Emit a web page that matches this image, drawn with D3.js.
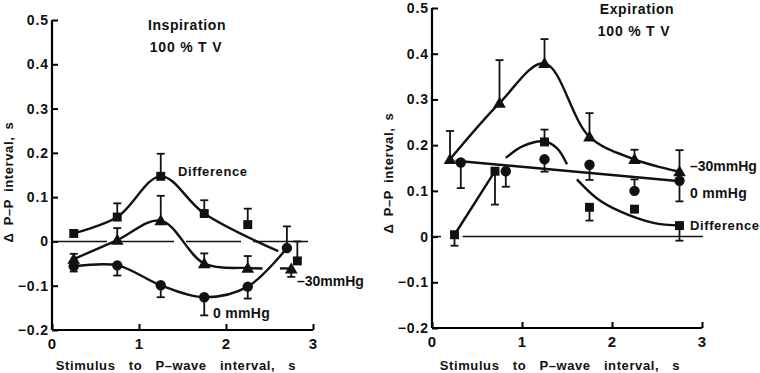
<!DOCTYPE html>
<html>
<head>
<meta charset="utf-8">
<script src="https://cdn.jsdelivr.net/npm/d3@7"></script>
<style>
  body { margin: 0; background: #fff; }
  svg text { font-family: "Liberation Sans", Arial, sans-serif; font-weight: bold; fill: #111; }
</style>
</head>
<body>
<div id="chart"></div>
<script>
// ---- data (x = stimulus to P-wave interval, s; y = delta P-P interval, s)
const yTicks = [-0.2, -0.1, 0, 0.1, 0.2, 0.3, 0.4, 0.5];
const xTicks = [0, 1, 2, 3];

// Inspiration panel
const inspDiffX = [0.25, 0.75, 1.25, 1.75, 2.25, 2.82];
const inspDiffY = [0.018, 0.055, 0.147, 0.063, 0.038, -0.044];
const inspDiffErr = [0.026, 0.086, 0.198, 0.093, 0.074, 0.0];
const inspDiffCurve = [[0.25, 0.018], [0.75, 0.055], [1.25, 0.147], [1.75, 0.063], [2.6, -0.022]];

const insp30X = [0.25, 0.75, 1.25, 1.75, 2.25, 2.75];
const insp30Y = [-0.04, 0.003, 0.047, -0.05, -0.06, -0.062];
const insp30Err = [-0.028, 0.03, 0.103, -0.027, -0.033, -0.08];
const insp30Curve = [[0.25, -0.04], [0.75, 0.003], [1.25, 0.047], [1.75, -0.05], [2.25, -0.06], [2.42, -0.061]];
const insp30Tail = [[2.62, -0.061], [2.74, -0.061]];

const insp0X = [0.25, 0.75, 1.25, 1.75, 2.25, 2.7];
const insp0Y = [-0.056, -0.054, -0.099, -0.126, -0.102, -0.015];
const insp0Err = [-0.068, -0.077, -0.126, -0.167, -0.129, 0.034];

// Expiration panel
const exp30X = [0.2, 0.75, 1.25, 1.75, 2.25, 2.75];
const exp30Y = [0.169, 0.292, 0.379, 0.218, 0.169, 0.142];
const exp30Err = [0.231, 0.386, 0.432, 0.27, 0.19, 0.189];

const exp0X = [0.32, 0.82, 1.25, 1.75, 2.25, 2.75];
const exp0Y = [0.162, 0.143, 0.169, 0.157, 0.1, 0.122];
const exp0Err = [0.106, 0.109, 0.142, 0.124, 0.125, 0.077];
const exp0Fit = [[0.26, 0.166], [2.76, 0.121]];

const expDiffX = [0.25, 0.7, 1.25, 1.75, 2.25, 2.75];
const expDiffY = [0.004, 0.143, 0.207, 0.064, 0.06, 0.024];
const expDiffErr = [-0.02, 0.07, 0.234, 0.035, null, -0.009];
const expDiffRise = [[0.25, 0.004], [0.7, 0.143]];
const expDiffArc = [[0.82, 0.172], [1.01, 0.198], [1.25, 0.208], [1.39, 0.193], [1.5, 0.158]];
const expDiffFall = [[1.61, 0.125], [1.83, 0.084], [2.09, 0.055], [2.46, 0.03], [2.76, 0.024]];

const width = 760, height = 373;
const svg = d3.select('#chart').append('svg')
    .attr('width', width).attr('height', height);

function makePanel(xRange, yRange) {
    const x = d3.scaleLinear([0, 3], xRange);
    const y = d3.scaleLinear([-0.2, 0.5], yRange);
    const g = svg.append('g');

    // axes, ticks pointing inward
    g.append('g')
        .attr('transform', `translate(0,${y(-0.2)})`)
        .call(d3.axisTop(x).tickValues(xTicks).tickSize(6).tickFormat(''))
        .call(a => a.select('.domain').attr('stroke-width', 2.2).attr('d', `M${xRange[0]},0H${xRange[1]}`))
        .call(a => a.selectAll('line').attr('stroke-width', 2));
    g.append('g')
        .attr('transform', `translate(${x(0)},0)`)
        .call(d3.axisRight(y).tickValues(yTicks).tickSize(6).tickFormat(''))
        .call(a => a.select('.domain').attr('stroke-width', 2.2).attr('d', `M0,${yRange[0]}V${yRange[1]}`))
        .call(a => a.selectAll('line').attr('stroke-width', 2));

    g.selectAll('text.yt').data(yTicks).join('text')
        .attr('x', x(0) - 3).attr('y', d => Math.max(y(d) + 5, 13))
        .attr('text-anchor', 'end').style('font-size', '14px')
        .style('letter-spacing', '0.9px')
        .text(d => d === 0 ? '0' : d3.format('.1f')(d).replace('-', '\u2013'));
    g.selectAll('text.xt').data(xTicks).join('text')
        .attr('x', d => x(d)).attr('y', y(-0.2) + 19)
        .attr('text-anchor', 'middle').style('font-size', '15px')
        .text(d => d);
    return { g, x, y };
}

function line(p, pts, curve) {
    p.g.append('path')
        .datum(pts)
        .attr('fill', 'none').attr('stroke', '#111').attr('stroke-width', 2.4)
        .attr('d', d3.line().x(d => p.x(d[0])).y(d => p.y(d[1])).curve(curve || d3.curveLinear));
}

function errBars(p, xs, err, ys) {
    xs.forEach((xv, i) => {
        if (err[i] === null) return;
        const cx = p.x(xv);
        p.g.append('line').attr('x1', cx).attr('x2', cx)
            .attr('y1', p.y(ys[i])).attr('y2', p.y(err[i]))
            .attr('stroke', '#111').attr('stroke-width', 1.8);
        p.g.append('line').attr('x1', cx - 4).attr('x2', cx + 4)
            .attr('y1', p.y(err[i])).attr('y2', p.y(err[i]))
            .attr('stroke', '#111').attr('stroke-width', 1.8);
    });
}

function markers(p, xs, ys, shape) {
    const sym = { circle: d3.symbolCircle, square: d3.symbolSquare, triangle: d3.symbolTriangle }[shape];
    const size = { circle: 85, square: 80, triangle: 70 }[shape];
    p.g.selectAll(null).data(xs).join('path')
        .attr('transform', (d, i) => `translate(${p.x(d)},${p.y(ys[i]) + (shape === 'triangle' ? 1 : 0)})`)
        .attr('d', d3.symbol(sym, size)())
        .attr('fill', '#111');
}

function label(p, txt, x, y, size, anchor, spacing) {
    p.g.append('text').attr('x', x).attr('y', y)
        .attr('text-anchor', anchor || 'start')
        .style('font-size', (size || 13) + 'px')
        .style('letter-spacing', (spacing || 0) + 'px')
        .text(txt);
}

// ---- left panel: inspiration
const L = makePanel([52, 313], [330, 20]);
L.g.append('line')
    .attr('x1', L.x(0)).attr('x2', L.x(3.01))
    .attr('y1', L.y(0)).attr('y2', L.y(0))
    .attr('stroke', '#111').attr('stroke-width', 1.6)
    .attr('stroke-dasharray', '55,12');

line(L, inspDiffCurve, d3.curveCatmullRom);
line(L, insp30Curve, d3.curveCatmullRom);
line(L, insp30Tail);
line(L, insp0X.map((d, i) => [d, insp0Y[i]]), d3.curveCatmullRom);

errBars(L, inspDiffX, inspDiffErr, inspDiffY);
errBars(L, insp30X, insp30Err, insp30Y);
errBars(L, insp0X, insp0Err, insp0Y);
markers(L, inspDiffX, inspDiffY, 'square');
markers(L, insp30X, insp30Y, 'triangle');
markers(L, insp0X, insp0Y, 'circle');

label(L, 'Inspiration', 187, 30, 14, 'middle', 0.6);
label(L, '100 % T V', 186, 52, 14, 'middle', 0.8);
label(L, 'Difference', 178, 176, 13, 'start', 0.6);
label(L, '\u201330mmHg', 297, 286, 14);
label(L, '0 mmHg', 213, 318, 14, 'start', 0.3);
L.g.append('text')
    .attr('transform', `translate(13,182) rotate(-90)`)
    .attr('text-anchor', 'middle').style('font-size', '13px')
    .style('word-spacing', '3px').style('letter-spacing', '0.6px')
    .text('\u0394 P\u2013P interval, s');
L.g.append('text')
    .attr('x', 176).attr('y', 370)
    .attr('text-anchor', 'middle').style('font-size', '13px')
    .style('word-spacing', '9px').style('letter-spacing', '0.6px')
    .text('Stimulus to P\u2013wave interval, s');

// ---- right panel: expiration
const R = makePanel([432, 702], [328, 8]);
R.g.append('line')
    .attr('x1', R.x(0)).attr('x2', R.x(0.1))
    .attr('y1', R.y(0)).attr('y2', R.y(0))
    .attr('stroke', '#111').attr('stroke-width', 1.6);
R.g.append('line')
    .attr('x1', R.x(0.34)).attr('x2', R.x(3.01))
    .attr('y1', R.y(0)).attr('y2', R.y(0))
    .attr('stroke', '#111').attr('stroke-width', 1.6);

line(R, exp30X.map((d, i) => [d, exp30Y[i]]), d3.curveCatmullRom);
line(R, exp0Fit);
line(R, expDiffRise);
line(R, expDiffArc, d3.curveCatmullRom);
line(R, expDiffFall, d3.curveCatmullRom);

errBars(R, exp30X, exp30Err, exp30Y);
errBars(R, exp0X, exp0Err, exp0Y);
errBars(R, expDiffX, expDiffErr, expDiffY);
markers(R, exp30X, exp30Y, 'triangle');
markers(R, exp0X, exp0Y, 'circle');
markers(R, expDiffX, expDiffY, 'square');

label(R, 'Expiration', 637, 14, 14, 'middle', 0.6);
label(R, '100 % T V', 634, 36, 14, 'middle', 0.8);
label(R, '\u201330mmHg', 690, 171, 14);
label(R, '0 mmHg', 690, 198, 14, 'start', 0.3);
label(R, 'Difference', 690, 230, 13, 'start', 0.6);
R.g.append('text')
    .attr('transform', `translate(393,173) rotate(-90)`)
    .attr('text-anchor', 'middle').style('font-size', '13px')
    .style('word-spacing', '3px').style('letter-spacing', '0.6px')
    .text('\u0394 P\u2013P interval, s');
R.g.append('text')
    .attr('x', 560).attr('y', 370)
    .attr('text-anchor', 'middle').style('font-size', '13px')
    .style('word-spacing', '9px').style('letter-spacing', '0.6px')
    .text('Stimulus to P\u2013wave interval, s');
</script>
</body>
</html>
